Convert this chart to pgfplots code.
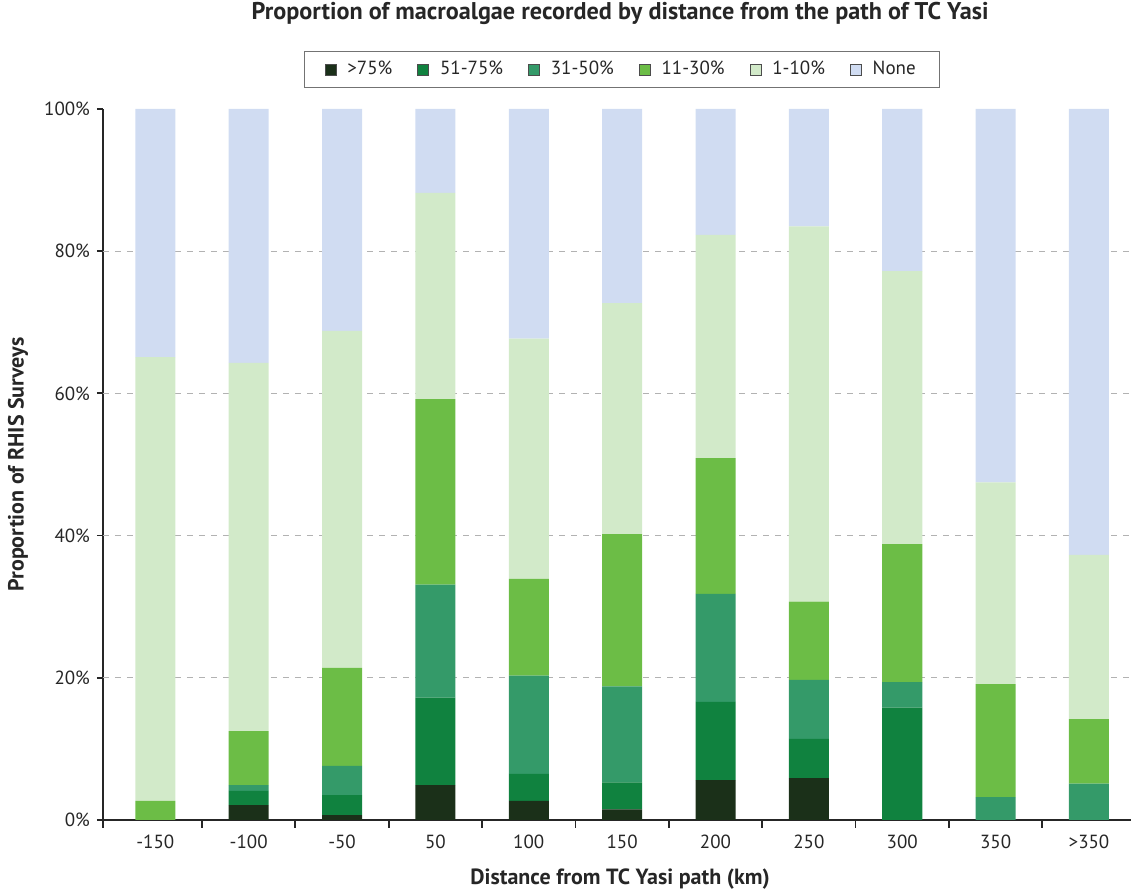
\documentclass[border=0pt]{standalone}
\usepackage{pgfplots}
\pgfplotsset{compat=1.18}
\usepackage{pgfplotstable}
\usepackage{fontspec}
\setmainfont{PT Sans}
\usetikzlibrary{calc}

\definecolor{gA}{HTML}{1B3019}
\definecolor{gB}{HTML}{10823F}
\definecolor{gC}{HTML}{349A69}
\definecolor{gD}{HTML}{6CBD46}
\definecolor{gE}{HTML}{D2EAC9}
\definecolor{gF}{HTML}{D0DCF2}

% share of surveys per macroalgae cover class
\pgfplotstableread{
x  a    b    c    d    e    f
0  0    0    0    2.7  62.4 34.9
1  2.1  2.0  0.8  7.6  51.8 35.7
2  0.7  2.8  4.1  13.8 47.4 31.2
3  4.9  12.3 15.9 26.1 29.0 11.8
4  2.7  3.8  13.8 13.6 33.8 32.3
5  1.5  3.8  13.5 21.4 32.5 27.3
6  5.6  11.0 15.2 19.1 31.4 17.7
7  5.9  5.5  8.3  11.0 52.8 16.5
8  0    15.8 3.6  19.4 38.4 22.8
9  0    0    3.2  15.9 28.4 52.5
10 0    0    5.1  9.1  23.1 62.7
}\data

\begin{document}
\begin{tikzpicture}
\begin{axis}[
    scale only axis,
    width=514pt, height=355.5pt,
    xmin=-0.56, xmax=10.45,
    ymin=0, ymax=100,
    ybar stacked,
    bar width=20pt,
    axis lines=left,
    axis line style={-, line width=0.9pt, black!85},
    tick align=outside,
    xtick={0,...,10},
    xticklabels={-150,-100,-50,50,100,150,200,250,300,350,>350},
    major x tick style={draw=none},
    minor xtick={-0.56,0.5,1.5,...,9.5},
    minor tick length=4pt,
    minor x tick style={line width=0.9pt, black!85},
    ytick={0,20,...,100},
    yticklabel={\pgfmathprintnumber{\tick}\%},
    major tick length=3pt,
    major y tick style={line width=0.9pt, black!85},
    extra y ticks={20,40,60,80},
    extra y tick labels={},
    extra y tick style={grid=major, major tick length=0pt},
    grid style={dashed, black!30, line width=0.5pt},
    ticklabel style={font=\fontsize{9.5}{11}\selectfont, text=black!85},
    /pgf/number format/assume math mode=true,
    xticklabel style={yshift=-1pt},
    xlabel={Distance from TC Yasi path (km)},
    xlabel style={at={(axis description cs:0.503,-0.083)}, anchor=center,
        font=\fontsize{11}{13}\selectfont\bfseries, text=black!85},
    ylabel={Proportion of RHIS Surveys},
    ylabel style={at={(axis description cs:-0.0827,0.5)}, anchor=center,
        font=\fontsize{11}{13}\selectfont\bfseries, text=black!85},
    title={Proportion of macroalgae recorded by distance from the path of TC Yasi},
    title style={at={(axis description cs:0.503,1.118)}, anchor=center,
        font=\fontsize{12.1}{14}\selectfont\bfseries, text=black!85},
    legend columns=6,
    legend style={at={(axis description cs:0.505,1.0556)}, anchor=center,
        draw=black!55, line width=0.6pt,
        font=\fontsize{9.5}{11}\selectfont, text=black!85,
        inner xsep=10pt, inner ysep=3pt,
        /tikz/every odd column/.append style={column sep=3.5pt},
        /tikz/every even column/.append style={column sep=10.5pt}},
    legend image code/.code={\draw[#1, draw=black!70, line width=0.4pt] (0pt,-2.75pt) rectangle (5.5pt,2.75pt);},
]
\addplot[fill=gA, draw=none] table[x=x, y=a] {\data};
\addplot[fill=gB, draw=none] table[x=x, y=b] {\data};
\addplot[fill=gC, draw=none] table[x=x, y=c] {\data};
\addplot[fill=gD, draw=none] table[x=x, y=d] {\data};
\addplot[fill=gE, draw=none] table[x=x, y=e] {\data};
\addplot[fill=gF, draw=none] table[x=x, y=f] {\data};
\legend{>75\%, 51-75\%, 31-50\%, 11-30\%, 1-10\%, None}
\end{axis}
\pgfresetboundingbox
\path[use as bounding box] ($(current axis.south west)+(-51.5pt,-34.5pt)$) rectangle ($(current axis.north east)+(0pt,54.5pt)$);
\end{tikzpicture}
\end{document}
